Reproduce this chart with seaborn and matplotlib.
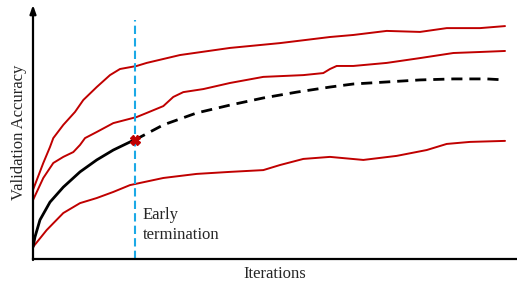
import numpy as np
import pandas as pd
import matplotlib
matplotlib.use("Agg")
import matplotlib.pyplot as plt
import seaborn as sns

sns.set_style("white")
plt.rcParams['font.family'] = ['Liberation Serif', 'DejaVu Serif']

# curves (iterations 0-100, accuracy 0-1)
top_x = [0, 2.18, 3.60, 4.30, 6.42, 8.90, 10.66, 13.50, 16.31, 18.43, 21.97, 24.09, 31.14,
         41.74, 52.33, 62.92, 67.86, 74.94, 81.99, 87.65, 94.70, 100]
top_y = [0.272, 0.378, 0.441, 0.476, 0.528, 0.579, 0.626, 0.677, 0.724, 0.748, 0.760, 0.772, 0.803,
         0.831, 0.850, 0.874, 0.882, 0.898, 0.894, 0.909, 0.909, 0.917]

mid_x = [0, 2.18, 4.30, 6.42, 8.54, 9.96, 11.02, 13.50, 17.01, 21.97, 24.09, 27.61, 29.72, 31.84,
         36.08, 41.74, 48.79, 57.27, 61.50, 62.92, 64.34, 67.86, 74.94, 81.99, 89.05, 94.70, 100]
mid_y = [0.232, 0.319, 0.378, 0.402, 0.421, 0.449, 0.476, 0.500, 0.535, 0.559, 0.575, 0.602, 0.638, 0.657,
         0.669, 0.693, 0.717, 0.724, 0.732, 0.748, 0.760, 0.760, 0.772, 0.791, 0.811, 0.815, 0.819]

low_x = [0, 2.90, 6.42, 9.96, 13.50, 17.01, 20.55, 27.61, 34.68, 41.74, 48.79, 52.33, 57.27,
         62.92, 69.98, 77.06, 83.41, 87.65, 92.58, 100]
low_y = [0.047, 0.114, 0.181, 0.220, 0.240, 0.264, 0.291, 0.319, 0.335, 0.343, 0.350, 0.370, 0.394,
         0.402, 0.390, 0.406, 0.429, 0.453, 0.461, 0.465]

seen_x = [0, 0.42, 1.48, 3.60, 6.42, 9.96, 13.50, 17.01, 21.25, 21.61]
seen_y = [0.047, 0.087, 0.154, 0.224, 0.283, 0.343, 0.390, 0.429, 0.467, 0.469]

pred_x = [21.61, 27.61, 34.68, 41.74, 48.79, 55.87, 62.92, 67.86, 74.94, 81.99, 89.05, 96.12, 100]
pred_y = [0.469, 0.528, 0.575, 0.606, 0.634, 0.657, 0.677, 0.689, 0.697, 0.705, 0.709, 0.709, 0.705]

stop_x = 21.61

red = "#c00000"

fig = plt.figure(figsize=(5.17, 2.88), dpi=100)
ax = fig.add_axes([33/517, 29/288, 484/517, 254/288])

for xs, ys in [(top_x, top_y), (mid_x, mid_y), (low_x, low_y)]:
    sns.lineplot(x=xs, y=ys, color=red, lw=1.4, ax=ax, solid_joinstyle="round")

sns.lineplot(x=seen_x, y=seen_y, color="black", lw=2, ax=ax, solid_joinstyle="round")
sns.lineplot(x=pred_x, y=pred_y, color="black", lw=2, ax=ax, linestyle=(0, (4, 2.5)))

ax.plot([stop_x, stop_x], [0, 0.941], color="#1ca9e6", lw=1.5, ls=(0, (4, 2)))
ax.plot([stop_x], [seen_y[-1]], marker="X", color=red, ms=7, mec=red)

ax.text(23.3, 0.205, "Early\ntermination", fontsize=12, va="top", ha="left",
        linespacing=1.3)

ax.set_xlim(0, 102.54)
ax.set_ylim(0, 1)
ax.set_xticks([])
ax.set_yticks([])
ax.set_xlabel("Iterations", fontsize=12, labelpad=5)
ax.set_ylabel("Validation Accuracy", fontsize=12, labelpad=4)

for s in ["top", "right", "left"]:
    ax.spines[s].set_visible(False)
ax.spines["bottom"].set_color("black")
ax.spines["bottom"].set_linewidth(1.6)
ax.annotate("", xy=(0, 1.0), xytext=(0, -0.004), xycoords="axes fraction",
            arrowprops=dict(arrowstyle="-|>,head_length=0.5,head_width=0.18",
                            lw=1.6, color="black", shrinkA=0, shrinkB=0),
            annotation_clip=False)

fig.savefig("out.png", dpi=100)
